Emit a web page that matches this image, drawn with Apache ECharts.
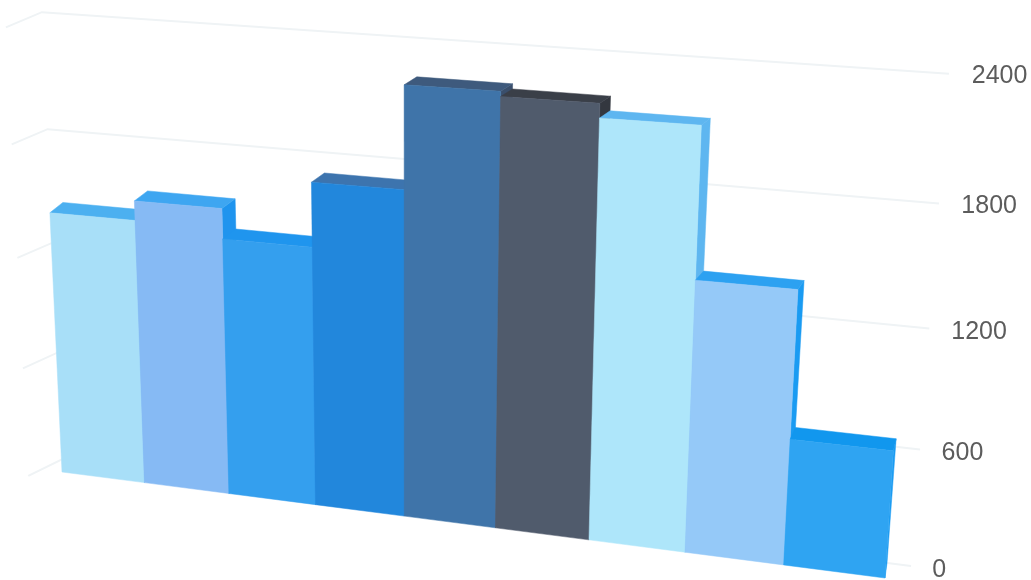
<!DOCTYPE html>
<html>
<head>
<meta charset="utf-8">
<style>html,body{margin:0;padding:0;background:#fff}#chart{width:1031px;height:580px}</style>
<script src="https://cdn.jsdelivr.net/npm/echarts@6/dist/echarts.min.js"></script>
</head>
<body>
<div id="chart"></div>
<script>
// Chart data
const categories = ['A', 'B', 'C', 'D', 'E', 'F', 'G', 'H', 'I'];
const values = [1420, 1522, 1365, 1695, 2210, 2185, 2115, 1375, 640];
const yTicks = [0, 600, 1200, 1800, 2400];
const tickLabels = ['0', '600', '1200', '1800', '2400'];

// Face colours per bar
const frontColors = ['#a8dff8', '#86baf4', '#349fee', '#2287dc', '#3f74a9', '#505b6c', '#aee6fa', '#95c9f8', '#2fa4f2'];
const topColors = ['#4cb0f0', '#3ea6f1', '#1f95ee', '#3d74ae', '#3e5a7d', '#3a3f48', '#5eb6f0', '#2ca1f1', '#1197ee'];
const sideColors = ['#4cb0f0', '#1f94ee', '#1f8fe6', '#2a6fb5', '#3a4f6c', '#33373f', '#5eb6f0', '#1a9bf2', '#1a9bf2'];

const W = 1031, H = 580;
const Y_MAX = 2400;

// Perspective view: quads of the front and back planes of the bars,
// listed as [x=0 v=0], [x=1 v=0], [x=1 v=1], [x=0 v=1].
const frontQuad = [[62, 472], [885, 578], [918, 77], [41, 23]];
const backQuad = [[75, 460], [887, 563], [923, 72], [54, 13]];

function makeHomography(q) {
  const [[x0, y0], [x1, y1], [x2, y2], [x3, y3]] = q;
  const dx1 = x1 - x2, dx2 = x3 - x2, sx = x0 - x1 + x2 - x3;
  const dy1 = y1 - y2, dy2 = y3 - y2, sy = y0 - y1 + y2 - y3;
  const den = dx1 * dy2 - dx2 * dy1;
  const g = (sx * dy2 - dx2 * sy) / den;
  const h = (dx1 * sy - sx * dy1) / den;
  const a = x1 - x0 + g * x1, b = x3 - x0 + h * x3;
  const d = y1 - y0 + g * y1, e = y3 - y0 + h * y3;
  return (u, v) => {
    const w = g * u + h * v + 1;
    return [(a * u + b * v + x0) / w, (d * u + e * v + y0) / w];
  };
}
const toFront = makeHomography(frontQuad);
const toBack = makeHomography(backQuad);

// Project a grid pixel at a given depth (0 = front plane, 1 = back plane).
function project(px, py, depth) {
  const u = px / W, v = 1 - py / H;
  const f = toFront(u, v), b = toBack(u, v);
  return [f[0] + (b[0] - f[0]) * depth, f[1] + (b[1] - f[1]) * depth];
}

function renderBar(params, api) {
  const i = api.value(0);
  const c = api.coord([i, api.value(1)]);
  const base = api.coord([i, 0]);
  const bw = api.size([1, 0])[0];
  const l = c[0] - bw / 2, r = c[0] + bw / 2;
  const flt = project(l, c[1], 0), frt = project(r, c[1], 0);
  const flb = project(l, base[1], 0), frb = project(r, base[1], 0);
  const blt = project(l, c[1], 1), brt = project(r, c[1], 1), brb = project(r, base[1], 1);
  const face = (points, fill) => ({
    type: 'polygon',
    shape: { points },
    style: { fill, stroke: fill, lineWidth: 0.5 }
  });
  return {
    type: 'group',
    children: [
      face([frt, brt, brb, frb], sideColors[i]),
      face([flt, blt, brt, frt], topColors[i]),
      face([flt, frt, frb, flb], frontColors[i])
    ]
  };
}

function renderWallLine(params, api) {
  const tick = api.value(0);
  const p = api.coord([0, tick]);
  const bw = api.size([1, 0])[0];
  const left = p[0] - bw / 2;
  const cornerX = left - 0.14 * bw;
  const endX = left + 9.24 * bw;
  return {
    type: 'polyline',
    shape: {
      points: [project(cornerX - 0.18 * bw, p[1], -0.6), project(cornerX, p[1], 1), project(endX, p[1], 1)]
    },
    style: { fill: 'none', stroke: '#eff3f5', lineWidth: 2 }
  };
}

function renderTickLabel(params, api) {
  const idx = params.dataIndex;
  const p = api.coord([0, api.value(0)]);
  const bw = api.size([1, 0])[0];
  const pos = project(p[0] - bw / 2 + 9.45 * bw, p[1], 1);
  return {
    type: 'text',
    x: pos[0],
    y: pos[1] + 1,
    style: {
      text: tickLabels[idx],
      fill: '#5c5c5c',
      font: '25px "Liberation Sans", Arial, sans-serif',
      textAlign: 'left',
      textVerticalAlign: 'middle'
    }
  };
}

const chart = echarts.init(document.getElementById('chart'), null, { renderer: 'canvas' });
chart.setOption({
  animation: false,
  backgroundColor: '#ffffff',
  grid: { left: 0, right: 0, top: 0, bottom: 0 },
  xAxis: { type: 'category', data: categories, show: false },
  yAxis: { type: 'value', min: 0, max: Y_MAX, interval: 600, show: false },
  series: [
    { type: 'custom', clip: false, silent: true, z: 1, renderItem: renderWallLine, encode: { y: 0 }, data: yTicks.map(t => [t]) },
    { type: 'custom', clip: false, silent: true, z: 2, renderItem: renderBar, encode: { x: 0, y: 1 }, data: values.map((v, i) => [i, v]) },
    { type: 'custom', clip: false, silent: true, z: 3, renderItem: renderTickLabel, encode: { y: 0 }, data: yTicks.map(t => [t]) }
  ]
});
</script>
</body>
</html>
